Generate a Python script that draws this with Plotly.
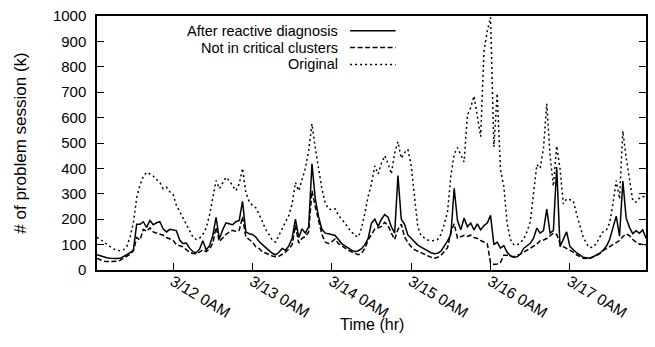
import pandas as pd
import plotly.graph_objects as go

# Hourly problem-session counts (thousands), 3/11 01:00 through 3/17 23:00.
# Each block is one calendar day.
original = (
    [128, 122, 110, 100, 92, 83, 78, 76, 80, 92, 130, 185, 285, 335, 368, 385, 378, 370, 356, 345, 320, 326, 308]
    + [298, 255, 230, 205, 175, 150, 130, 120, 125, 140, 165, 215, 285, 352, 320, 340, 365, 352, 330, 312, 338, 400, 305, 270]
    + [255, 245, 220, 190, 160, 140, 118, 110, 135, 160, 185, 215, 260, 345, 312, 360, 400, 470, 575, 480, 400, 320, 265, 240]
    + [238, 241, 215, 200, 185, 165, 150, 135, 130, 165, 225, 290, 340, 410, 378, 420, 450, 420, 378, 460, 505, 440, 462, 475]
    + [410, 275, 170, 135, 128, 118, 115, 116, 120, 140, 180, 230, 370, 456, 482, 456, 425, 610, 640, 685, 600, 525, 860, 940]
    + [995, 485, 695, 395, 330, 185, 120, 100, 98, 108, 122, 150, 190, 300, 415, 400, 480, 655, 450, 330, 488, 400, 260, 280]
    + [275, 273, 221, 175, 130, 104, 88, 90, 104, 130, 150, 156, 185, 260, 352, 280, 547, 443, 352, 273, 267, 283, 288, 290]
)

after_reactive = (
    [60, 55, 50, 48, 46, 44, 45, 46, 52, 60, 68, 78, 180, 180, 190, 168, 195, 178, 186, 190, 162, 150, 160]
    + [158, 155, 118, 104, 106, 86, 72, 68, 82, 115, 80, 95, 135, 207, 122, 158, 185, 182, 178, 190, 195, 270, 150, 143]
    + [140, 130, 112, 100, 88, 76, 66, 60, 70, 85, 78, 95, 125, 200, 128, 162, 145, 170, 418, 280, 210, 160, 145, 143]
    + [140, 136, 120, 104, 95, 86, 78, 72, 76, 84, 100, 125, 185, 200, 172, 200, 218, 208, 170, 145, 372, 200, 180, 138]
    + [125, 110, 98, 90, 82, 74, 68, 64, 66, 74, 92, 115, 140, 322, 195, 158, 205, 170, 185, 158, 182, 158, 175, 185]
    + [215, 100, 110, 86, 96, 70, 56, 50, 52, 62, 85, 95, 105, 125, 165, 145, 155, 240, 145, 155, 405, 92, 122, 150]
    + [92, 80, 68, 60, 50, 48, 46, 52, 58, 66, 78, 92, 120, 165, 212, 133, 350, 205, 168, 143, 155, 145, 158, 125]
)

not_critical = (
    [46, 40, 35, 33, 33, 33, 34, 38, 45, 55, 62, 75, 128, 118, 160, 152, 166, 150, 146, 142, 137, 128, 122]
    + [117, 100, 96, 91, 80, 70, 65, 64, 70, 80, 72, 82, 105, 168, 112, 128, 140, 150, 156, 152, 156, 210, 130, 120]
    + [110, 92, 85, 72, 66, 60, 55, 52, 54, 62, 70, 82, 100, 176, 106, 125, 132, 150, 312, 250, 200, 140, 110, 104]
    + [112, 122, 104, 95, 86, 78, 72, 65, 60, 66, 85, 118, 140, 162, 166, 172, 188, 175, 145, 120, 160, 180, 130, 108]
    + [92, 80, 74, 68, 60, 54, 50, 46, 50, 58, 72, 88, 150, 182, 125, 130, 137, 132, 137, 128, 124, 116, 110, 104]
    + [28, 22, 24, 30, 58, 58, 54, 52, 58, 62, 70, 78, 86, 92, 102, 115, 118, 124, 135, 145, 140, 105, 92, 85]
    + [78, 70, 60, 52, 46, 45, 46, 52, 58, 64, 76, 84, 92, 100, 108, 116, 132, 142, 135, 120, 110, 102, 100, 96]
)

times = pd.date_range("2014-03-11 01:00", periods=len(original), freq="h")

tick_days = ["2014-03-12", "2014-03-13", "2014-03-14", "2014-03-15", "2014-03-16", "2014-03-17"]
tick_labels = ["3/12 0AM", "3/13 0AM", "3/14 0AM", "3/15 0AM", "3/16 0AM", "3/17 0AM"]

DOTTED = "2px,3px"
DASHED = "5px,2.5px"

series = [
    ("Original", original, DOTTED),
    ("Not in critical clusters", not_critical, DASHED),
    ("After reactive diagnosis", after_reactive, "solid"),
]

FONT = "Liberation Sans, Arial, Helvetica, sans-serif"

fig = go.Figure()
for name, values, dash in series:
    fig.add_trace(go.Scatter(
        x=times, y=values, name=name, mode="lines",
        line=dict(color="black", width=1.5, dash=dash),
    ))

# gnuplot-style key: right-aligned labels followed by line samples
key_rows = [
    ("After reactive diagnosis", "solid", 0.9416),
    ("Not in critical clusters", DASHED, 0.8755),
    ("Original", DOTTED, 0.8093),
]
for label, dash, ky in key_rows:
    fig.add_annotation(
        x=0.441, y=ky, xref="paper", yref="paper", text=label,
        showarrow=False, xanchor="right", yanchor="middle", borderpad=0,
        font=dict(family=FONT, size=14.5, color="black"),
    )
    fig.add_shape(
        type="line", xref="paper", yref="paper",
        x0=0.461, x1=0.544, y0=ky, y1=ky,
        line=dict(color="black", width=1.5, dash=dash),
    )

# x-axis title
fig.add_annotation(
    x=0.5, y=-0.216, xref="paper", yref="paper", text="Time (hr)",
    showarrow=False, xanchor="center", yanchor="middle",
    font=dict(family=FONT, size=16, color="black"),
)

fig.update_layout(
    width=655, height=347,
    margin=dict(l=97, r=7, t=13, b=77),
    paper_bgcolor="white", plot_bgcolor="white",
    showlegend=False,
    font=dict(family=FONT, size=15, color="black"),
)
fig.update_xaxes(
    type="date",
    range=["2014-03-11 01:00", "2014-03-17 23:00"],
    tickmode="array", tickvals=tick_days, ticktext=tick_labels,
    tickangle=31, ticks="inside", ticklen=7, tickwidth=1, tickcolor="black",
    tickfont=dict(size=15.5), ticklabelstandoff=-5,
    showline=True, linecolor="black", linewidth=1.5, mirror=True,
    showgrid=False, zeroline=False,
)
fig.update_yaxes(
    range=[0, 1000], dtick=100,
    ticks="inside", ticklen=7, tickwidth=1, tickcolor="black",
    ticklabelstandoff=6,
    showline=True, linecolor="black", linewidth=1.5, mirror="ticks",
    showgrid=False, zeroline=False,
    title=dict(text="# of problem session (k)", standoff=22, font=dict(size=17)),
)

fig.write_html("out.html")
